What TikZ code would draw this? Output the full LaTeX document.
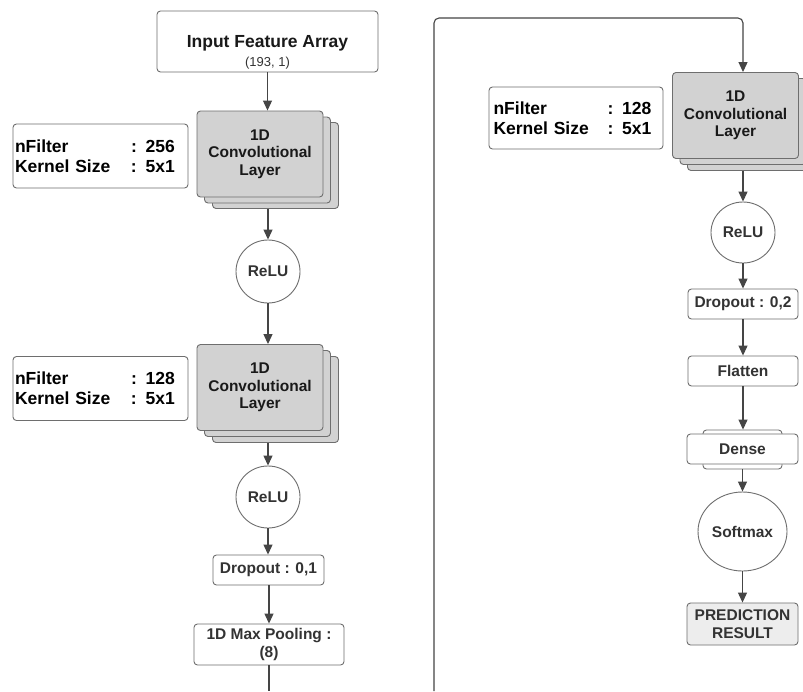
\documentclass[tikz,border=0pt]{standalone}
\usepackage{fontspec}
\setmainfont{Liberation Sans}
\usetikzlibrary{arrows.meta,shapes.geometric}
\definecolor{ln}{HTML}{454545}
\definecolor{bd}{HTML}{6E6E6E}
\definecolor{cv}{HTML}{D2D2D2}
\definecolor{tx}{HTML}{333333}
\definecolor{pr}{HTML}{EDEDED}
\begin{document}
\begin{tikzpicture}[x=1pt,y=-1pt,
  box/.style={draw=bd, line width=0.9pt, rounded corners=3.5pt, fill=white, inner sep=0pt,
    align=center, text=tx, font=\fontsize{15.5}{17.5}\selectfont\bfseries},
  convbox/.style={box, fill=cv, minimum width=126pt, minimum height=86pt, text=black!90},
  parambox/.style={box, minimum width=175pt, minimum height=64pt, text width=171pt,
    inner xsep=2pt, align=left, text=black, font=\fontsize{17.5}{20}\selectfont\bfseries},
  actnode/.style={draw=bd, line width=0.9pt, ellipse, fill=white, inner sep=0pt, text=tx,
    font=\fontsize{15.5}{17.5}\selectfont\bfseries},
  smallbox/.style={box, minimum width=111pt, minimum height=30pt},
  arr/.style={draw=ln, line width=1.1pt, -{Triangle[length=10pt,width=9pt]}},
  plain/.style={draw=ln, line width=1.1pt}
]
\clip (0,0) rectangle (803,691);
\fill[white] (0,0) rectangle (803,691);

% ---------- left column ----------
\node[box, minimum width=221pt, minimum height=61pt] (inp) at (267.5,41.5) {};
\node[anchor=base, text=black!90, font=\fontsize{17.5}{20}\selectfont\bfseries] (inpt) at (267.5,47) {Input Feature Array};
\node[anchor=base, text=tx, font=\fontsize{13}{15}\selectfont] (inps) at (267.5,66) {(193, 1)};

\node[convbox] (c1c) at (275.5,165.5) {};
\node[convbox] (c1b) at (267.5,160) {};
\node[convbox] (c1) at (260,154) {1D\\Convolutional\\Layer};
\node[parambox] (p1) at (100.5,156) {\makebox[116pt][l]{nFilter}: 256\\\makebox[116pt][l]{Kernel Size}: 5x1};

\node[actnode, minimum width=64pt, minimum height=63pt] (r1) at (268,271.5) {ReLU};

\node[convbox] (c2c) at (275.5,399.5) {};
\node[convbox] (c2b) at (267.5,393.5) {};
\node[convbox] (c2) at (260,387.5) {1D\\Convolutional\\Layer};
\node[parambox] (p2) at (100.5,388.5) {\makebox[116pt][l]{nFilter}: 128\\\makebox[116pt][l]{Kernel Size}: 5x1};

\node[actnode, minimum width=64pt, minimum height=62pt] (r2) at (268,497) {ReLU};
\node[smallbox] (d1) at (268.5,570) {Dropout : 0,1};
\node[box, minimum width=150pt, minimum height=41pt] (pool) at (269,644.5) {1D Max Pooling :\\(8)};
\coordinate (pend) at (269,691);

\draw[arr] (inp.south) -- (inp.south |- c1.north);
\draw[arr] (r1.north |- c1c.south) -- (r1.north);
\draw[arr] (r1.south) -- (r1.south |- c2.north);
\draw[arr] (r2.north |- c2c.south) -- (r2.north);
\draw[arr] (r2.south) -- (r2.south |- d1.north);
\draw[arr] (d1.south -| pool.north) -- (pool.north);
\draw[plain] (pool.south) -- (pend);

% ---------- right column ----------
\node[convbox] (c3c) at (750.5,127.5) {};
\node[convbox] (c3b) at (743,121.5) {};
\node[convbox] (c3) at (735.5,115.5) {1D\\Convolutional\\Layer};
\node[parambox, minimum width=174pt, minimum height=62pt, text width=165pt, inner xsep=4.5pt] (p3) at (576,118) {\makebox[114pt][l]{nFilter}: 128\\\makebox[114pt][l]{Kernel Size}: 5x1};

\coordinate (ls) at (434,691);
\coordinate (lt) at (743,18);
\draw[arr, rounded corners=5pt] (ls) |- (lt) -- (lt |- c3.north);

\node[actnode, minimum width=64pt, minimum height=61pt] (r3) at (743,232.5) {ReLU};
\node[smallbox, minimum width=110pt] (d2) at (743,304) {Dropout : 0,2};
\node[smallbox, minimum width=110pt] (fl) at (743,371) {Flatten};
\node[box, minimum width=79pt, minimum height=39pt] (deb) at (742.5,449.5) {};
\node[smallbox] (de) at (742.5,449) {Dense};
\node[actnode, minimum width=89pt, minimum height=79pt] (sm) at (742.5,531.5) {Softmax};
\node[box, fill=pr, minimum width=111pt, minimum height=42pt] (pred) at (742.5,624) {PREDICTION\\RESULT};

\draw[arr] (r3.north |- c3c.south) -- (r3.north);
\draw[arr] (r3.south) -- (r3.south |- d2.north);
\draw[arr] (d2.south) -- (d2.south |- fl.north);
\draw[arr] (fl.south) -- (fl.south |- deb.north);
\draw[arr] (deb.south -| sm.north) -- (sm.north);
\draw[arr] (sm.south) -- (sm.south |- pred.north);
\end{tikzpicture}
\end{document}
